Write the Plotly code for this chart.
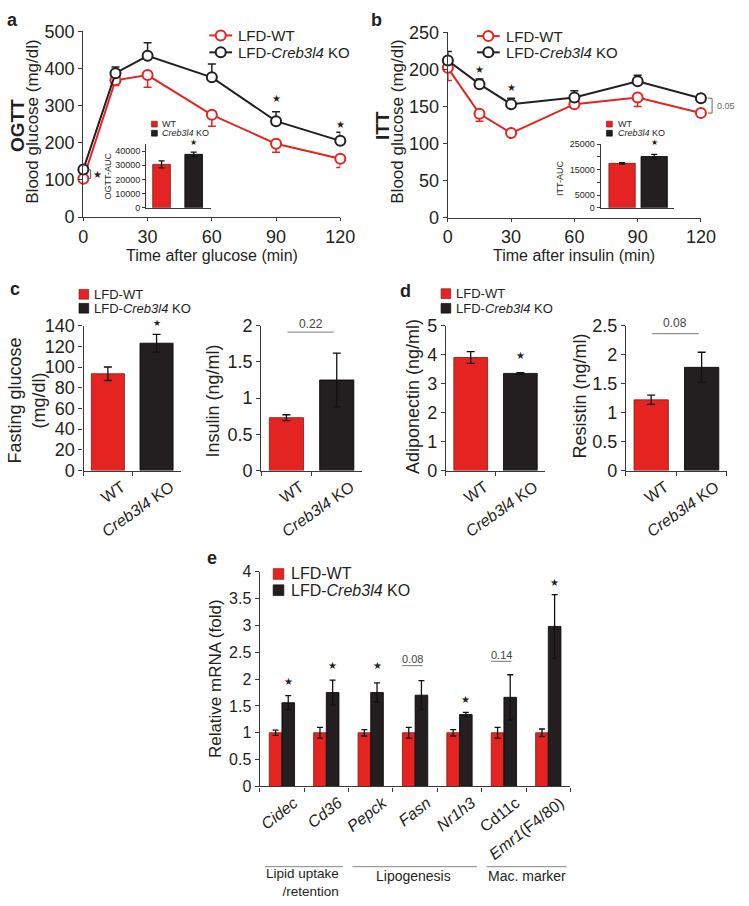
import plotly.graph_objects as go

W, H = 749, 906

RED = '#e52421'
BLK = '#231f20'
AX = '#3a3a3a'
FONT = 'Liberation Sans, Arial, sans-serif'

# a: OGTT
time_min = [0, 15, 30, 60, 90, 120]
ogtt_wt = [103, 368, 382, 275, 197, 157]
ogtt_wt_err = [0, 14, 33, 31, 23, 24]
ogtt_ko = [128, 387, 434, 376, 258, 205]
ogtt_ko_err = [0, 17, 35, 36, 25, 23]
ogtt_auc = [30600, 37700]
ogtt_auc_err = [2500, 1600]

# b: ITT
itt_wt = [202, 140, 114, 153, 162, 141]
itt_wt_err = [17, 10, 2, 4, 12, 2]
itt_ko = [212, 180, 153, 162, 184, 161]
itt_ko_err = [12, 7, 8, 9, 8, 5]
itt_auc = [17500, 20200]
itt_auc_err = [300, 800]

# c, d
groups = ['WT', 'KO']
group_labels = ['WT', '<i>Creb3l4</i> KO']
fasting_glucose = [93.5, 123]
fasting_glucose_err = [6.5, 8.5]
insulin = [0.73, 1.25]
insulin_err = [0.04, 0.37]
adiponectin = [3.9, 3.35]
adiponectin_err = [0.2, 0.03]
resistin = [1.22, 1.78]
resistin_err = [0.08, 0.26]

# e
genes = ['Cidec', 'Cd36', 'Pepck', 'Fasn', 'Nr1h3', 'Cd11c', 'Emr1(F4/80)']
gene_labels = ['<i>Cidec</i>', '<i>Cd36</i>', '<i>Pepck</i>', '<i>Fasn</i>', '<i>Nr1h3</i>',
               'Cd11c', '<i>Emr1</i>(F4/80)']
mrna_wt = [1.0, 1.0, 1.0, 1.0, 1.0, 1.0, 1.0]
mrna_wt_err = [0.05, 0.1, 0.06, 0.1, 0.06, 0.1, 0.07]
mrna_ko = [1.56, 1.75, 1.75, 1.7, 1.34, 1.66, 2.98]
mrna_ko_err = [0.13, 0.23, 0.18, 0.27, 0.04, 0.42, 0.59]


def px(x):
    return x / W


def py(y):
    return 1 - y / H


def tf(size):
    return dict(size=size, color=BLK)


def axis(dom, **kw):
    base = dict(domain=dom, showline=True, linecolor=AX, linewidth=1.3, ticks='outside',
                ticklen=4, tickwidth=1.3, tickcolor=AX, showgrid=False, zeroline=False,
                tickfont=tf(18))
    base.update(kw)
    return base


fig = go.Figure()


def line_pair(xa, ya, wt, wt_err, ko, ko_err):
    for vals, col, up, down in [(wt, RED, [0] * 6, wt_err), (ko, BLK, ko_err, [0] * 6)]:
        fig.add_trace(go.Scatter(
            x=time_min, y=vals, mode='lines+markers', xaxis=xa, yaxis=ya, cliponaxis=False,
            line=dict(color=col, width=2),
            marker=dict(symbol='circle', size=10, color='white', line=dict(color=col, width=2)),
            error_y=dict(type='data', symmetric=False, array=up, arrayminus=down,
                         color=col, thickness=1.5, width=4)))


def bar_pair(xa, ya, vals, errs, w, ew=4):
    for i, col, edge in [(0, RED, '#7a1a14'), (1, BLK, '#000000')]:
        fig.add_trace(go.Bar(
            x=[groups[i]], y=[vals[i]], xaxis=xa, yaxis=ya, width=w, offset=-w / 2,
            marker=dict(color=col, line=dict(color=edge, width=0.8)),
            error_y=dict(type='data', array=[errs[i]], color='#111', thickness=1.3, width=ew)))


line_pair('x', 'y', ogtt_wt, ogtt_wt_err, ogtt_ko, ogtt_ko_err)
line_pair('x3', 'y3', itt_wt, itt_wt_err, itt_ko, itt_ko_err)
bar_pair('x2', 'y2', ogtt_auc, ogtt_auc_err, 0.55, 3)
bar_pair('x4', 'y4', itt_auc, itt_auc_err, 0.82, 3)
bar_pair('x5', 'y5', fasting_glucose, fasting_glucose_err, 0.68)
bar_pair('x6', 'y6', insulin, insulin_err, 0.68)
bar_pair('x7', 'y7', adiponectin, adiponectin_err, 0.68)
bar_pair('x8', 'y8', resistin, resistin_err, 0.68)

bw = 0.285
fig.add_trace(go.Bar(x=genes, y=mrna_wt, xaxis='x9', yaxis='y9', width=bw, offset=-bw,
                     marker=dict(color=RED, line=dict(color='#7a1a14', width=0.8)),
                     error_y=dict(type='data', array=mrna_wt_err, color='#111',
                                  thickness=1.3, width=3)))
fig.add_trace(go.Bar(x=genes, y=mrna_ko, xaxis='x9', yaxis='y9', width=bw, offset=0,
                     marker=dict(color=BLK, line=dict(color='#000', width=0.8)),
                     error_y=dict(type='data', array=mrna_ko_err, color='#111',
                                  thickness=1.3, width=3)))

cat_x = dict(type='category', categoryorder='array', categoryarray=groups)
cd_x = dict(tickvals=groups, ticktext=group_labels, tickangle=-35, tickson='boundaries',
            ticklabelshift=14, tickfont=tf(16), **cat_x)

fig.update_layout(
    width=W, height=H, margin=dict(l=0, r=0, t=0, b=0),
    paper_bgcolor='white', plot_bgcolor='white', showlegend=False, barmode='overlay',
    font=dict(family=FONT, color=BLK),
    xaxis=axis([px(80.5), px(344.5)], range=[0, 120], tickvals=[0, 30, 60, 90, 120], anchor='y',
               ticklen=3),
    yaxis=axis([py(211.7), py(21.7)], range=[0, 500], dtick=100, anchor='x'),
    xaxis2=axis([px(145), px(212)], range=[-0.48, 1.55], anchor='y2', showticklabels=False,
                ticks='', **cat_x),
    yaxis2=axis([py(202.3), py(137)], range=[0, 45000], tickvals=[0, 10000, 20000, 30000, 40000],
                ticktext=['0', '10000', '20000', '30000', '40000'],
                anchor='x2', tickfont=tf(9), ticklen=3, linewidth=1),
    xaxis3=axis([px(455), px(715)], range=[0, 120], tickvals=[0, 30, 60, 90, 120], anchor='y3',
                ticklen=3),
    yaxis3=axis([py(212.2), py(22.8)], range=[0, 250], dtick=50, anchor='x3'),
    xaxis4=axis([px(612), px(687)], range=[-0.667, 1.606], anchor='y4', showticklabels=False,
                ticks='', **cat_x),
    yaxis4=axis([py(202.3), py(137.3)], range=[0, 25000],
                tickvals=[0, 5000, 10000, 15000, 20000, 25000],
                ticktext=['0', '5000', '', '15000', '', '25000'],
                anchor='x4', tickfont=tf(9), ticklen=3, linewidth=1),
    xaxis5=axis([px(80.7), px(180.7)], anchor='y5', **cd_x),
    yaxis5=axis([py(471), py(322.7)], range=[0, 140], dtick=20, anchor='x5'),
    xaxis6=axis([px(263.3), px(366.7)], anchor='y6', **cd_x),
    yaxis6=axis([py(471), py(322.7)], range=[0, 2], dtick=0.5, anchor='x6'),
    xaxis7=axis([px(453), px(555)], anchor='y7', **cd_x),
    yaxis7=axis([py(471), py(322.7)], range=[0, 5], dtick=1, anchor='x7'),
    xaxis8=axis([px(638), px(741.7)], anchor='y8', **cd_x),
    yaxis8=axis([py(471), py(322.7)], range=[0, 2.5], dtick=0.5, anchor='x8'),
    xaxis9=axis([px(261.7), px(581)], anchor='y9', type='category', categoryorder='array',
                categoryarray=genes, tickvals=genes, ticktext=gene_labels, tickangle=-38,
                tickson='boundaries', ticklabelshift=12, tickfont=tf(16)),
    yaxis9=axis([py(794), py(574.3)], range=[0, 4], dtick=0.5, anchor='x9', tickfont=tf(16)),
)

ann = []
shapes = []


def text(x, y, s, size, xref='paper', yref='paper', angle=0, bold=False, anchor='center',
         color=BLK, yshift=0, align='center'):
    if bold:
        s = '<b>' + s + '</b>'
    ann.append(dict(x=x, y=y, xref=xref, yref=yref, text=s, showarrow=False, textangle=angle,
                    xanchor=anchor, yanchor='middle', yshift=yshift, align=align,
                    font=dict(size=size, color=color, family=FONT)))


def star(x, y, xref, yref, size=10, yshift=0):
    text(x, y, '★', size, xref, yref, yshift=yshift)


# panel letters
text(px(8), py(10), 'a', 18, bold=True)
text(px(382), py(10), 'b', 18, bold=True)
text(px(10), py(285), 'c', 18, bold=True)
text(px(412), py(287), 'd', 18, bold=True)
text(px(213), py(560), 'e', 18, bold=True)

# axis titles
text(px(13), py(118), 'OGTT', 19, angle=-90, bold=True)
text(px(28), py(114), 'Blood glucose (mg/dl)', 17, angle=-90)
text(px(213), py(251), 'Time after glucose (min)', 16)
text(px(388), py(118), 'ITT', 19, angle=-90, bold=True)
text(px(403), py(114), 'Blood glucose (mg/dl)', 17, angle=-90)
text(px(585), py(251), 'Time after insulin (min)', 16)
text(px(106), py(170), 'OGTT-AUC', 9, angle=-90)
text(px(570), py(172), 'ITT-AUC', 9, angle=-90)
text(px(22), py(399), 'Fasting glucose<br>(mg/dl)', 18, angle=-90)
text(px(214), py(400), 'Insulin (ng/ml)', 18, angle=-90)
text(px(419), py(395), 'Adiponectin (ng/ml)', 18, angle=-90)
text(px(591), py(395), 'Resistin (ng/ml)', 18, angle=-90)
text(px(217), py(684), 'Relative mRNA (fold)', 17, angle=-90)

# significance marks (annotations outside an axis range are hidden, so pin to the top + shift)
star(90, 320, 'x', 'y')
star(120, 250, 'x', 'y')
star(6.8, 114, 'x', 'y')
shapes.append(dict(type='path', xref='x', yref='y', path='M 2.2,104 L 3.4,104 L 3.4,127 L 2.2,127',
                   line=dict(color='#555', width=1)))
star(1, 45000, 'x2', 'y2', 8, yshift=1)
star(15, 200, 'x3', 'y3')
star(30, 175, 'x3', 'y3')
star(1, 25000, 'x4', 'y4', 8, yshift=2)
shapes.append(dict(type='path', xref='paper', yref='y3',
                   path=f'M {px(722)},141 L {px(726.5)},141 L {px(726.5)},161 L {px(722)},161',
                   line=dict(color='#666', width=1)))
text(px(729), 151, '0.05', 9, yref='y3', anchor='left', color='#666')

star(1, 140, 'x5', 'y5', 9, yshift=3)
star(1, 3.98, 'x7', 'y7')
for xr, yr, y_line, y_top, shift, lbl in [('x6', 'y6', 1.91, 2.0, 2, '0.22'),
                                          ('x8', 'y8', 2.36, 2.5, 3, '0.08')]:
    shapes.append(dict(type='line', xref=xr, yref=yr, x0=0.02, x1=0.94, y0=y_line, y1=y_line,
                       line=dict(color='#777', width=1)))
    text(0.48, y_top, lbl, 12, xr, yr, color='#444', yshift=shift)

for i, y in [(0, 1.96), (1, 2.26), (2, 2.26), (4, 1.62), (6, 3.8)]:
    star(i + bw / 2, y, 'x9', 'y9')
for i, y_line, y_txt, lbl in [(3, 2.25, 2.37, '0.08'), (5, 2.33, 2.45, '0.14')]:
    shapes.append(dict(type='line', xref='x9', yref='y9', x0=i - 0.29, x1=i + 0.17,
                       y0=y_line, y1=y_line, line=dict(color='#777', width=1)))
    text(i - 0.06, y_txt, lbl, 11, 'x9', 'y9', color='#444')


# legends
def line_legend(x0, x1, ys, tx, size):
    for y, col, lbl in [(ys[0], RED, 'LFD-WT'), (ys[1], BLK, 'LFD-<i>Creb3l4</i> KO')]:
        shapes.append(dict(type='line', xref='paper', yref='paper', x0=px(x0), x1=px(x1),
                           y0=py(y), y1=py(y), line=dict(color=col, width=2)))
        xc = (x0 + x1) / 2
        shapes.append(dict(type='circle', xref='paper', yref='paper', xsizemode='pixel',
                           ysizemode='pixel', xanchor=px(xc), yanchor=py(y), x0=-5, x1=5,
                           y0=-5, y1=5, fillcolor='white', line=dict(color=col, width=2)))
        text(px(tx), py(y), lbl, size, anchor='left')


def box_legend(x0, side, ys, tx, size, labels):
    for y, col, edge, lbl in [(ys[0], RED, '#7a1a14', labels[0]), (ys[1], BLK, '#000', labels[1])]:
        shapes.append(dict(type='rect', xref='paper', yref='paper', x0=px(x0), x1=px(x0 + side),
                           y0=py(y - side / 2), y1=py(y + side / 2), fillcolor=col,
                           line=dict(color=edge, width=0.6)))
        text(px(tx), py(y), lbl, size, anchor='left')


big_lbl = ['LFD-WT', 'LFD-<i>Creb3l4</i> KO']
small_lbl = ['WT', '<i>Creb3l4</i> KO']
line_legend(210, 233.3, [26, 43.3], 237.5, 15)
line_legend(485, 508.3, [26.7, 43.3], 512.5, 15)
box_legend(150.5, 6, [116.7, 126], 159.5, 9, small_lbl)
box_legend(618, 6, [116.7, 126], 627.5, 9, small_lbl)
box_legend(76, 10, [290.7, 305], 89.5, 13, big_lbl)
box_legend(448, 10, [290, 305], 461.5, 13, big_lbl)
box_legend(275.5, 11, [576.7, 593.3], 292, 16, big_lbl)

# gene groups
for x0, x1 in [(267, 347), (357, 485), (495, 577)]:
    shapes.append(dict(type='line', xref='paper', yref='paper', x0=px(x0), x1=px(x1),
                       y0=py(876), y1=py(876), line=dict(color='#888', width=1)))
text(px(345), py(892.5), 'Lipid uptake<br>/retention', 13.5, anchor='right', align='right')
text(px(420), py(886), 'Lipogenesis', 14)
text(px(536), py(886), 'Mac. marker', 14)

fig.update_layout(annotations=ann, shapes=shapes)
page_fix = "document.body.style.margin='0';"
fig.write_html('out.html', config={'displayModeBar': False}, post_script=page_fix)
